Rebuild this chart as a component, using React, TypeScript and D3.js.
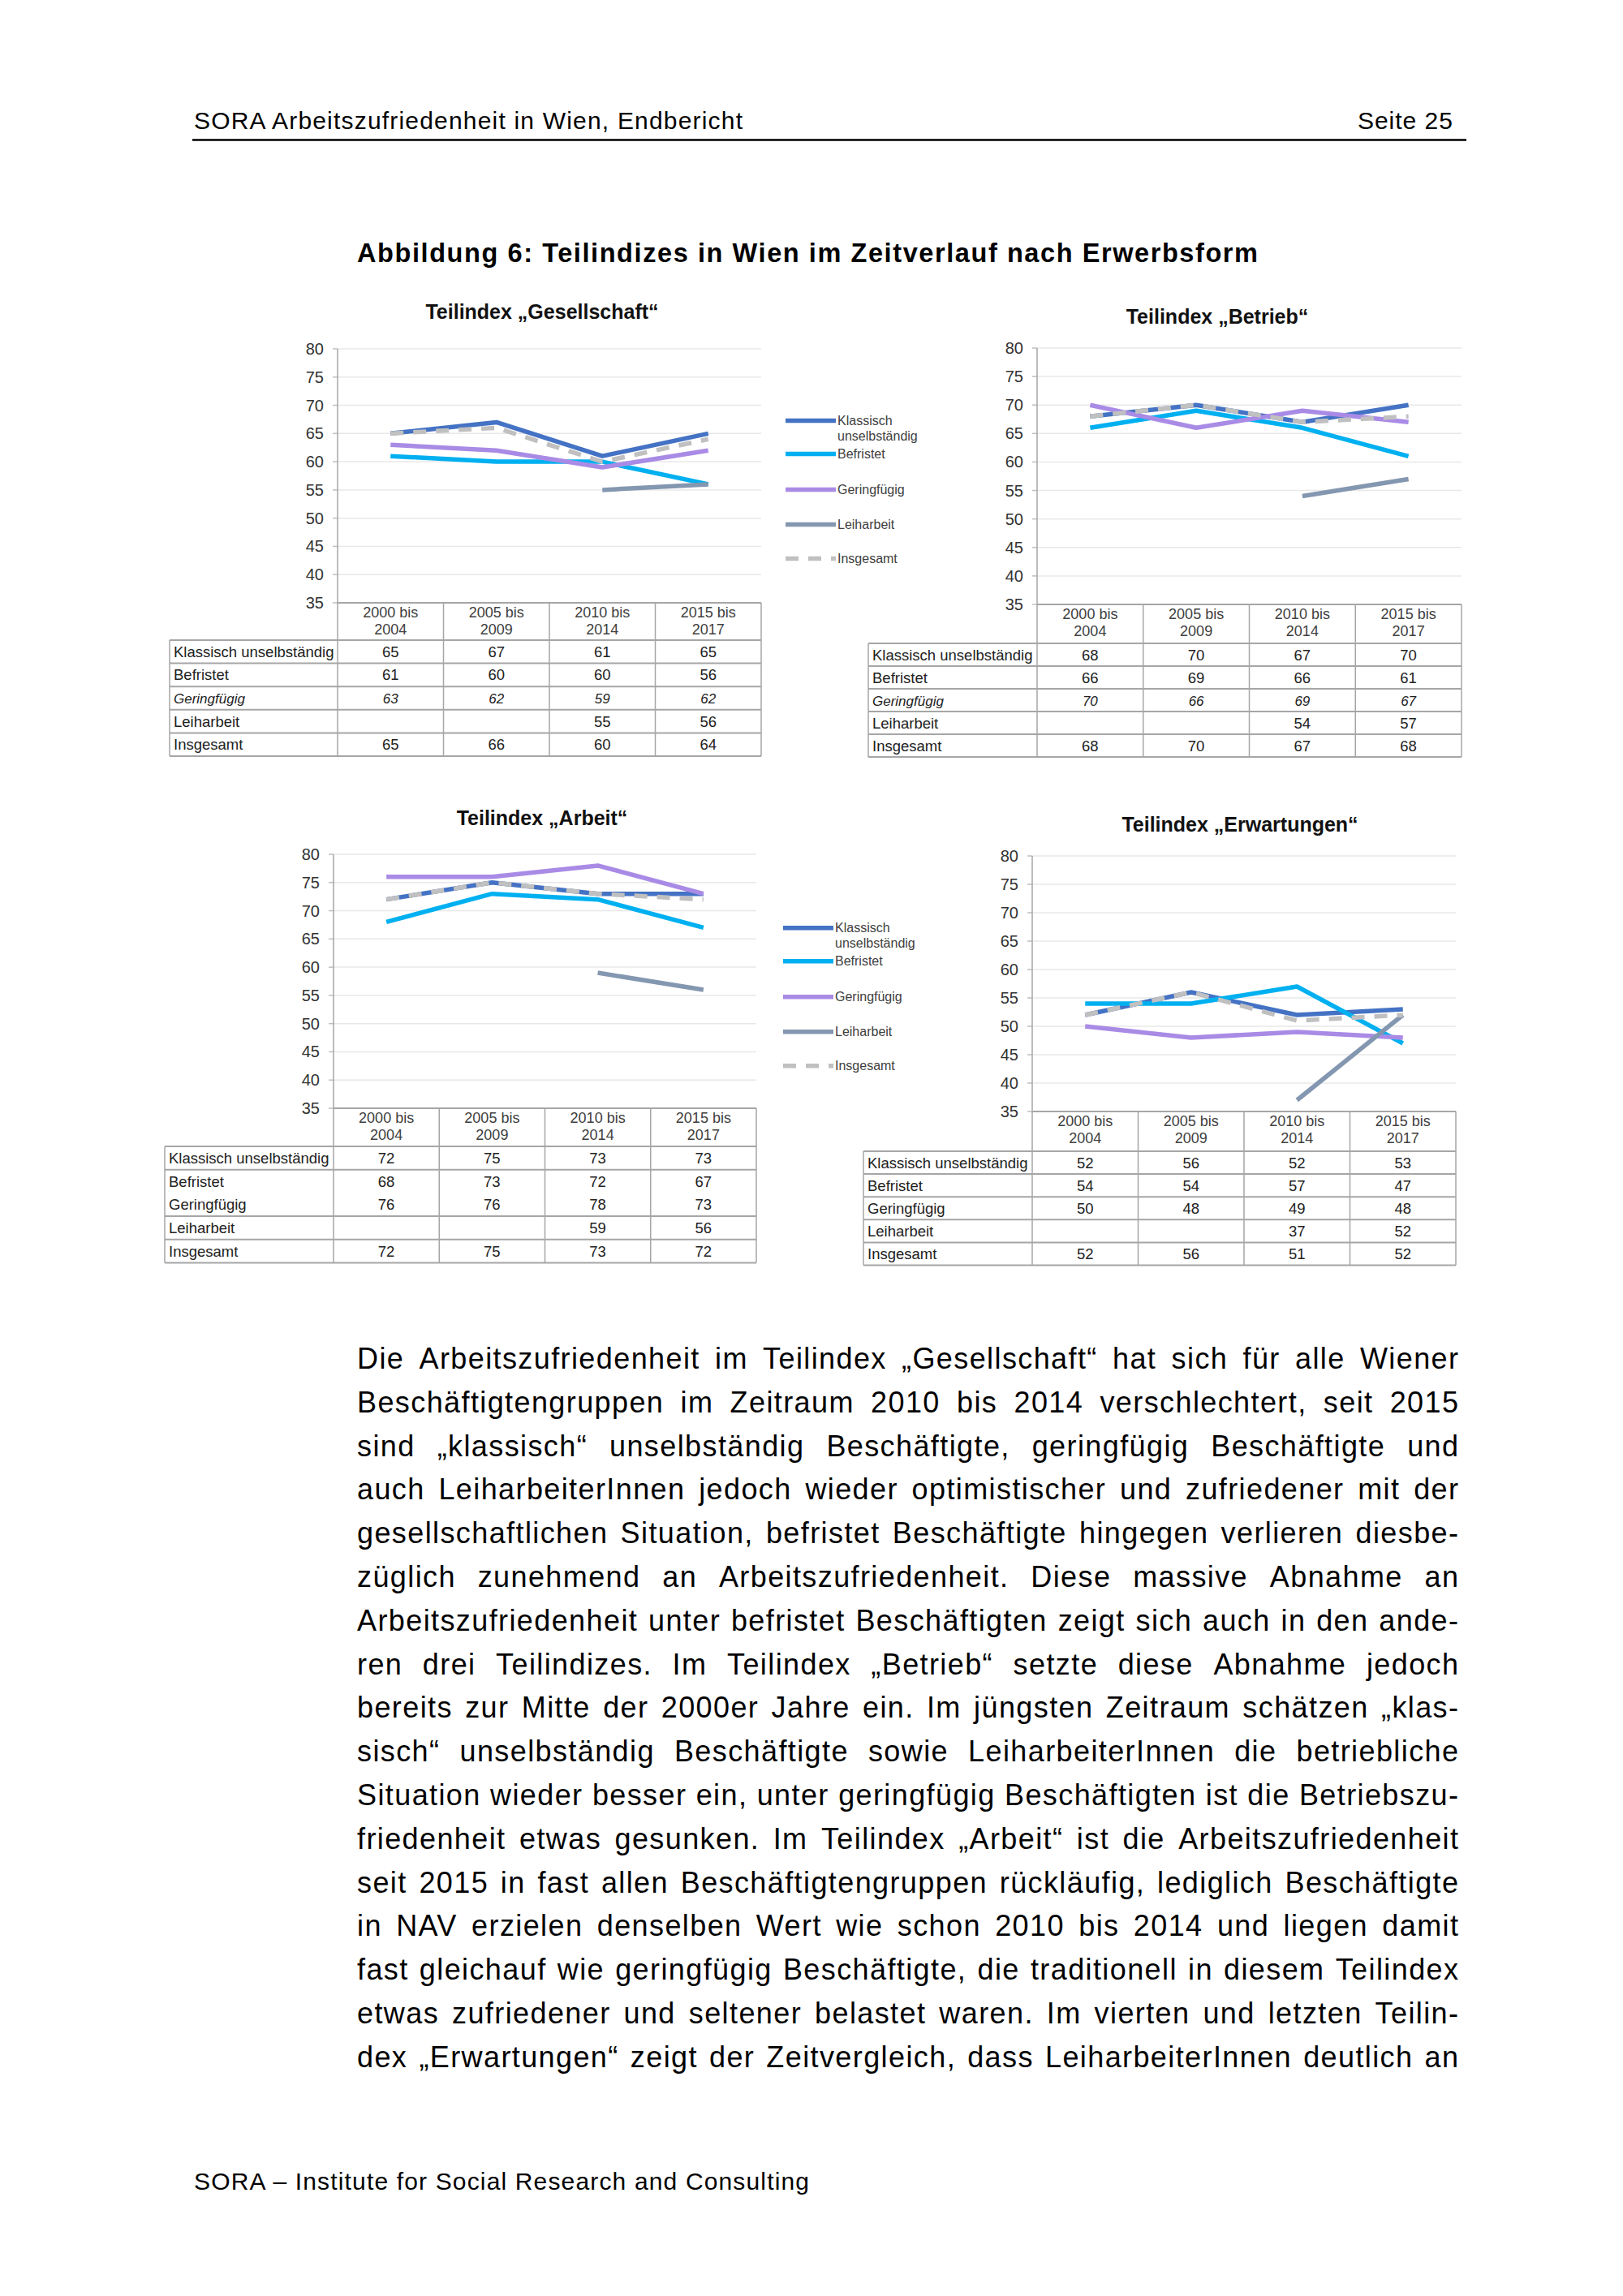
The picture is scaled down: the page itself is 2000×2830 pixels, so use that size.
import React from 'react';
import * as d3 from 'd3';

// Werte aus den Tabellen unter den Diagrammen (Reihenfolge wie rowLabels)
const periodTop = ['2000 bis', '2005 bis', '2010 bis', '2015 bis'];
const periodBottom = ['2004', '2009', '2014', '2017'];
const rowLabels = ['Klassisch unselbständig', 'Befristet', 'Geringfügig', 'Leiharbeit', 'Insgesamt'];
const legendLabels = [['Klassisch', 'unselbständig'], ['Befristet'], ['Geringfügig'], ['Leiharbeit'], ['Insgesamt']];
const yTicks = [35, 40, 45, 50, 55, 60, 65, 70, 75, 80];

const gesellschaftValues = [
  [65, 67, 61, 65],
  [61, 60, 60, 56],
  [63, 62, 59, 62],
  [null, null, 55, 56],
  [65, 66, 60, 64],
];
const betriebValues = [
  [68, 70, 67, 70],
  [66, 69, 66, 61],
  [70, 66, 69, 67],
  [null, null, 54, 57],
  [68, 70, 67, 68],
];
const arbeitValues = [
  [72, 75, 73, 73],
  [68, 73, 72, 67],
  [76, 76, 78, 73],
  [null, null, 59, 56],
  [72, 75, 73, 72],
];
const erwartungenValues = [
  [52, 56, 52, 53],
  [54, 54, 57, 47],
  [50, 48, 49, 48],
  [null, null, 37, 52],
  [52, 56, 51, 52],
];

const bodyLines = [
  'Die Arbeitszufriedenheit im Teilindex „Gesellschaft“ hat sich für alle Wiener',
  'Beschäftigtengruppen im Zeitraum 2010 bis 2014 verschlechtert, seit 2015',
  'sind „klassisch“ unselbständig Beschäftigte, geringfügig Beschäftigte und',
  'auch LeiharbeiterInnen jedoch wieder optimistischer und zufriedener mit der',
  'gesellschaftlichen Situation, befristet Beschäftigte hingegen verlieren diesbe-',
  'züglich zunehmend an Arbeitszufriedenheit. Diese massive Abnahme an',
  'Arbeitszufriedenheit unter befristet Beschäftigten zeigt sich auch in den ande-',
  'ren drei Teilindizes. Im Teilindex „Betrieb“ setzte diese Abnahme jedoch',
  'bereits zur Mitte der 2000er Jahre ein. Im jüngsten Zeitraum schätzen „klas-',
  'sisch“ unselbständig Beschäftigte sowie LeiharbeiterInnen die betriebliche',
  'Situation wieder besser ein, unter geringfügig Beschäftigten ist die Betriebszu-',
  'friedenheit etwas gesunken. Im Teilindex „Arbeit“ ist die Arbeitszufriedenheit',
  'seit 2015 in fast allen Beschäftigtengruppen rückläufig, lediglich Beschäftigte',
  'in NAV erzielen denselben Wert wie schon 2010 bis 2014 und liegen damit',
  'fast gleichauf wie geringfügig Beschäftigte, die traditionell in diesem Teilindex',
  'etwas zufriedener und seltener belastet waren. Im vierten und letzten Teilin-',
  'dex „Erwartungen“ zeigt der Zeitvergleich, dass LeiharbeiterInnen deutlich an',
];

const colors = ['#4472c4', '#00b0f0', '#a98be6', '#8497b0', '#c0c0c0'];
const FONT = "'Liberation Sans', Arial, sans-serif";

// Layout der vier Felder (Pixel im 2000x2830-Blatt)
const panels = [
  { title: 'Teilindex „Gesellschaft“', values: gesellschaftValues, left: 209, axisX: 416, right: 938, yTop: 430, yBottom: 743, headerBottom: 789, rowH: 28.6, titleX: 668, titleY: 393, italic: true, skipBorder: -1, legend: { x: 968, y: 518.6 } },
  { title: 'Teilindex „Betrieb“', values: betriebValues, left: 1070, axisX: 1278, right: 1801, yTop: 429, yBottom: 745, headerBottom: 793, rowH: 28, titleX: 1500, titleY: 399, italic: true, skipBorder: -1, legend: null },
  { title: 'Teilindex „Arbeit“', values: arbeitValues, left: 203, axisX: 411, right: 932, yTop: 1053, yBottom: 1366, headerBottom: 1413, rowH: 28.7, titleX: 668, titleY: 1017, italic: false, skipBorder: 2, legend: { x: 965, y: 1143.7 } },
  { title: 'Teilindex „Erwartungen“', values: erwartungenValues, left: 1064, axisX: 1272, right: 1794, yTop: 1055, yBottom: 1370, headerBottom: 1419, rowH: 28.1, titleX: 1528, titleY: 1025, italic: false, skipBorder: -1, legend: null },
];

const legendOffsets = [0, 41, 85, 128, 170];

let ctx: CanvasRenderingContext2D | null = null;
function measure(s: string, font: string) {
  if (!ctx) ctx = document.createElement('canvas').getContext('2d');
  ctx!.font = font;
  return ctx!.measureText(s).width;
}

function Panel({ p }: { p: typeof panels[number] }) {
  const x = d3.scaleBand<number>().domain(d3.range(4)).range([p.axisX, p.right]);
  const y = d3.scaleLinear().domain([35, 80]).range([p.yBottom, p.yTop]);
  const cx = (i: number) => (x(i) as number) + x.bandwidth() / 2;
  const line = d3.line<number | null>()
    .defined(d => d != null)
    .x((_, i) => cx(i))
    .y(d => y(d as number));
  const tableBottom = p.headerBottom + p.rowH * rowLabels.length;
  const border = '#a6a6a6';

  return (
    <g>
      <text x={p.titleX} y={p.titleY} textAnchor="middle" fontFamily={FONT} fontWeight="bold" fontSize={25} fill="#111">{p.title}</text>
      {/* Gitter + y-Achse */}
      {yTicks.map(t => (
        <g key={t}>
          {t > 35 && <line x1={p.axisX} x2={p.right} y1={y(t)} y2={y(t)} stroke="#e8e8e8" strokeWidth={1.5} />}
          <line x1={p.axisX - 6} x2={p.axisX} y1={y(t)} y2={y(t)} stroke="#bfbfbf" strokeWidth={1.5} />
          <text x={p.axisX - 17} y={y(t) + 7} textAnchor="end" fontFamily={FONT} fontSize={20} fill="#333">{t}</text>
        </g>
      ))}
      <line x1={p.axisX} x2={p.axisX} y1={p.yTop} y2={tableBottom} stroke={border} strokeWidth={1.5} />
      {/* Tabelle */}
      <line x1={p.axisX} x2={p.right} y1={p.yBottom} y2={p.yBottom} stroke={border} strokeWidth={2} />
      {d3.range(rowLabels.length + 1).filter(i => i !== p.skipBorder).map(i => (
        <line key={'h' + i} x1={p.left} x2={p.right} y1={p.headerBottom + i * p.rowH} y2={p.headerBottom + i * p.rowH} stroke={border} strokeWidth={2} />
      ))}
      <line x1={p.left} x2={p.left} y1={p.headerBottom} y2={tableBottom} stroke={border} strokeWidth={1.5} />
      {d3.range(1, 5).map(i => {
        const xx = i < 4 ? (x(i) as number) : p.right;
        return <line key={'v' + i} x1={xx} x2={xx} y1={p.yBottom} y2={tableBottom} stroke={border} strokeWidth={1.5} />;
      })}
      {periodTop.map((lab, i) => (
        <text key={'p' + i} x={cx(i)} y={p.yBottom + 18} textAnchor="middle" fontFamily={FONT} fontSize={18} fill="#404040">
          <tspan x={cx(i)}>{lab}</tspan>
          <tspan x={cx(i)} dy={21}>{periodBottom[i]}</tspan>
        </text>
      ))}
      {rowLabels.map((lab, r) => {
        const it = p.italic && r === 2;
        const base = p.headerBottom + r * p.rowH + p.rowH / 2 + 6.5;
        return (
          <g key={'r' + r} fontFamily={FONT} fontSize={it ? 17 : 18.5} fontStyle={it ? 'italic' : 'normal'} fill="#222">
            <text x={p.left + 5} y={base}>{lab}</text>
            {p.values[r].map((v, i) => v == null ? null : (
              <text key={i} x={cx(i)} y={base} textAnchor="middle">{v}</text>
            ))}
          </g>
        );
      })}
      {/* Linien */}
      {p.values.map((vals, s) => (
        <path key={'l' + s} d={line(vals) || ''} fill="none" stroke={colors[s]} strokeWidth={5.5}
          strokeLinejoin="round" strokeDasharray={s === 4 ? '16 12' : undefined} />
      ))}
      {/* Legende */}
      {p.legend && legendLabels.map((labs, s) => {
        const ly = p.legend!.y + legendOffsets[s];
        return (
          <g key={'lg' + s}>
            <line x1={p.legend!.x} x2={p.legend!.x + 62} y1={ly} y2={ly} stroke={colors[s]} strokeWidth={5.5}
              strokeDasharray={s === 4 ? '16 12' : undefined} />
            <text x={p.legend!.x + 64} y={ly + 5.5} fontFamily={FONT} fontSize={16} fill="#404040">
              {labs.map((t, k) => <tspan key={k} x={p.legend!.x + 64} dy={k === 0 ? 0 : 19}>{t}</tspan>)}
            </text>
          </g>
        );
      })}
    </g>
  );
}

function Body() {
  const left = 440, right = 1797, top = 1687, lh = 53.8, size = 36, ls = 1.4;
  const font = `${size}px ${FONT}`;
  return (
    <g fontFamily={FONT} fontSize={size} fill="#000" letterSpacing={ls}>
      {bodyLines.map((ln, li) => {
        const words = ln.split(' ');
        const w = words.map(s => measure(s, font) + (s.length - 1) * ls);
        const gap = (right - left - d3.sum(w)) / (words.length - 1);
        let xx = left;
        return words.map((s, k) => {
          const el = <text key={li + '-' + k} x={xx} y={top + li * lh}>{s}</text>;
          xx += w[k] + gap;
          return el;
        });
      })}
    </g>
  );
}

export default function App() {
  return (
    <svg width={2000} height={2830} style={{ position: 'absolute', left: 0, top: 0, background: '#fff' }}>
      <rect width={2000} height={2830} fill="#fff" />
      <text x={239} y={159} fontFamily={FONT} fontSize={30} fill="#000" textLength={676} lengthAdjust="spacing">SORA Arbeitszufriedenheit in Wien, Endbericht</text>
      <text x={1791} y={159} textAnchor="end" fontFamily={FONT} fontSize={30} fill="#000" letterSpacing={1}>Seite 25</text>
      <line x1={237} x2={1807} y1={172.5} y2={172.5} stroke="#000" strokeWidth={2.5} />
      <text x={440} y={323} fontFamily={FONT} fontWeight="bold" fontSize={32.5} fill="#000" textLength={1110} lengthAdjust="spacing">Abbildung 6: Teilindizes in Wien im Zeitverlauf nach Erwerbsform</text>
      {panels.map((p, i) => <Panel key={i} p={p} />)}
      <Body />
      <text x={239} y={2699} fontFamily={FONT} fontSize={30} fill="#000" textLength={758} lengthAdjust="spacing">SORA – Institute for Social Research and Consulting</text>
    </svg>
  );
}
